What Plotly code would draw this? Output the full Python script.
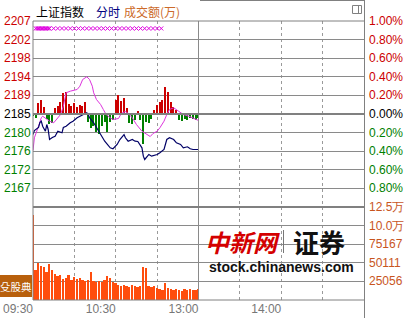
import plotly.graph_objects as go

# ---------------- data ----------------
PREV_CLOSE = 2184.8
VOL_TOP = 125280

# trading minutes since 09:30 (lunch break collapsed)
index_t = [0, 1, 4, 5, 6, 7, 9, 10, 11, 12, 14, 16, 18, 21, 22, 24, 27, 29, 32, 34, 36, 39, 40, 41,
           44, 46, 49, 52, 56, 58, 61, 63, 66, 67, 69, 72, 74, 76, 79, 80, 81, 84, 86, 90, 92, 95,
           97, 99, 102, 104, 107, 109, 112, 114, 116, 120]
index_p = [2179.98, 2180.92, 2181.63, 2182.80, 2183.11, 2181.93, 2180.76, 2182.33, 2181.16, 2178.81,
           2179.28, 2179.59, 2180.76, 2180.38, 2181.63, 2181.93, 2182.73, 2183.11, 2183.91, 2184.28,
           2184.68, 2185.08, 2184.68, 2183.91, 2182.73, 2181.56, 2179.98, 2178.41, 2176.86, 2176.63,
           2177.64, 2178.81, 2179.98, 2179.21, 2178.41, 2178.81, 2178.41, 2178.34, 2176.86, 2174.89,
           2174.11, 2175.29, 2174.89, 2175.29, 2175.69, 2176.46, 2178.81, 2179.21, 2178.81, 2178.03,
           2177.64, 2176.86, 2177.10, 2176.63, 2176.46, 2176.46]

lead_t = [0, 1, 4, 6, 7, 10, 12, 15, 17, 20, 22, 23, 24, 27, 29, 32, 34, 36, 39, 41, 43, 44, 46, 49,
          51, 53, 56, 58, 62, 64, 67, 69, 72, 75, 79, 83, 85, 87, 90, 92, 95, 97, 99, 102, 104, 107,
          109, 113, 116, 120]
lead_p = [2176.23, 2179.21, 2181.93, 2183.91, 2184.28, 2183.51, 2183.11, 2182.73, 2183.51, 2184.68,
          2186.63, 2188.61, 2189.78, 2190.16, 2190.39, 2190.56, 2191.33, 2192.90, 2193.54, 2192.90,
          2191.33, 2189.78, 2188.21, 2187.03, 2185.86, 2184.68, 2183.91, 2183.51, 2183.74, 2184.92,
          2185.39, 2184.92, 2183.91, 2182.33, 2180.76, 2179.98, 2179.51, 2180.22, 2180.76, 2181.56,
          2183.11, 2184.68, 2185.86, 2186.26, 2185.86, 2185.08, 2184.68, 2184.28, 2183.91, 2183.27]

bar_t = list(range(0, 121, 2))
strength = [-0.5, -0.9, 2.6, 3.3, 1.6, -1.2, -2.3, -2.1, 1.4, 1.9, 2.8, 4.9, 5.2, 2.3, 1.9, 2.6,
            1.6, 2.1, 1.9, 2.8, -1.9, -3.3, -2.8, -4.2, -4.7, -2.8, -1.9, -4.2, -1.9, -1.4, 3.3,
            4.5, 3.1, 3.8, 1.4, -2.1, -2.3, -1.4, 0.7, -1.4, -7.0, -1.9, -2.1, -1.2, 0.9, 2.1, 2.8,
            3.3, 6.3, 5.2, 2.8, 1.6, 0.9, -1.4, -1.6, -1.2, -1.4, -0.9, -1.2, -1.4, -0.9]
volume = [114500, 40400, 49800, 45800, 44500, 37700, 48500, 40400, 35000, 32300, 33700, 28300,
          29600, 33700, 26900, 31000, 28300, 29600, 26900, 25600, 26900, 37700, 25600, 24200,
          25600, 24200, 26900, 32300, 29600, 24200, 22900, 20200, 18900, 20200, 18900, 17500,
          20200, 18900, 17500, 18900, 44500, 43100, 18900, 17500, 18900, 16200, 14800, 13500,
          22900, 16200, 14800, 13500, 14800, 13500, 12100, 14800, 13500, 14800, 13500, 13500, 14800]

mark_t = [2, 3, 4, 5, 6, 7, 8, 9, 10, 11, 12, 15, 18, 21, 24, 27, 30, 33, 36, 39, 42, 45, 48, 51,
          54, 57, 60, 63, 66, 69, 72, 75, 78, 81, 84, 87, 90, 93]
mark_level = 2204.9

price_steps = [5, 4, 3, 2, 1, 0, -1, -2, -3, -4]
price_labels = ['2207', '2202', '2198', '2194', '2189', '2185', '2180', '2176', '2172', '2167']
pct_labels = ['1.00%', '0.80%', '0.60%', '0.40%', '0.20%', '0.00%', '0.20%', '0.40%', '0.60%', '0.80%']
vol_steps = [5, 4, 3, 2, 1]
vol_labels = ['12.5万', '10.0万', '75167', '50111', '25056']
time_ticks = [0, 30, 60, 90, 120, 150, 180, 210, 240]
time_labels = ['09:30', '', '10:30', '', '13:00', '', '14:00', '', '']

# ---------------- styling helpers ----------------
L, R, T, B = 33, 364, 21, 300
W, H = R - L, B - T


def px(x):
    return (x - L) / W


def py(y):
    return (B - y) / H


RED, GREEN, BLACK = '#cc0000', '#008000', '#000000'
ORANGE = '#c8551e'
GRID = '#8a8a8a'
NUMFONT = 'Liberation Sans, Arial, sans-serif'
CJK = 'Noto Sans CJK SC, sans-serif'

fig = go.Figure()

fig.add_trace(go.Bar(
    x=bar_t, y=strength, base=PREV_CLOSE, width=1.0,
    marker=dict(color=[RED if v > 0 else GREEN for v in strength], line=dict(width=0)),
    xaxis='x', yaxis='y', hoverinfo='skip'))
fig.add_trace(go.Scatter(x=lead_t, y=lead_p, mode='lines',
                         line=dict(color='#dd33dd', width=1), xaxis='x', yaxis='y'))
fig.add_trace(go.Scatter(x=index_t, y=index_p, mode='lines',
                         line=dict(color='#000066', width=1.2), xaxis='x', yaxis='y'))
fig.add_trace(go.Scatter(x=mark_t, y=[mark_level] * len(mark_t), mode='markers',
                         marker=dict(symbol='x-thin', size=4, line=dict(color='#e000e0', width=1)),
                         xaxis='x', yaxis='y'))
fig.add_trace(go.Bar(
    x=bar_t, y=volume, width=1.3,
    marker=dict(color='#ff4d0d', line=dict(width=0)),
    xaxis='x', yaxis='y2', hoverinfo='skip'))

ann = []
price_tickvals = [PREV_CLOSE * (1 + 0.002 * k) for k in range(-5, 6)]
for k, lab, pl in zip(price_steps, price_labels, pct_labels):
    col = RED if k > 0 else (BLACK if k == 0 else GREEN)
    yv = PREV_CLOSE * (1 + 0.002 * k)
    ann.append(dict(xref='paper', yref='y', x=px(2), y=yv, text=lab, xanchor='left',
                    yanchor='middle', showarrow=False, font=dict(family=NUMFONT, size=12, color=col)))
    ann.append(dict(xref='paper', yref='y', x=px(367), y=yv, text=pl, xanchor='left',
                    yanchor='middle', showarrow=False, font=dict(family=NUMFONT, size=12, color=col)))
for k, lab in zip(vol_steps, vol_labels):
    ann.append(dict(xref='paper', yref='y2', x=px(367), y=VOL_TOP * k / 5, text=lab, xanchor='left',
                    yanchor='middle', showarrow=False, font=dict(family=NUMFONT, size=12, color=ORANGE)))

# title
ann += [
    dict(xref='paper', yref='paper', x=px(34), y=py(11), text='上证指数', xanchor='left',
         yanchor='middle', showarrow=False, font=dict(family=CJK, size=12, color='#000000')),
    dict(xref='paper', yref='paper', x=px(94), y=py(11), text='分时', xanchor='left',
         yanchor='middle', showarrow=False, font=dict(family=CJK, size=12, color='#000080')),
    dict(xref='paper', yref='paper', x=px(122), y=py(11), text='成交额(万)', xanchor='left',
         yanchor='middle', showarrow=False, font=dict(family=CJK, size=12, color='#cc6a2a')),
]
# watermark
ann += [
    dict(xref='paper', yref='paper', x=px(203), y=py(241), text='<i><b>中新网</b></i>', xanchor='left',
         yanchor='middle', showarrow=False, font=dict(family=CJK, size=24, color='#d40000')),
    dict(xref='paper', yref='paper', x=px(291), y=py(241), text='<b>证券</b>', xanchor='left',
         yanchor='middle', showarrow=False, font=dict(family=CJK, size=26, color='#111111')),
    dict(xref='paper', yref='paper', x=px(207), y=py(267), text='<b>stock.chinanews.com</b>',
         xanchor='left', yanchor='middle', showarrow=False,
         font=dict(family=NUMFONT, size=14, color='#111111')),
    dict(xref='paper', yref='paper', x=px(32.5), y=py(286), text='殳股典', xanchor='right',
         yanchor='middle', showarrow=False, borderpad=0,
         font=dict(family=CJK, size=10.5, color='#ffffff')),
]

shapes = [
    # brown badge
    dict(type='rect', xref='paper', yref='paper', x0=px(-5), x1=px(32), y0=py(297), y1=py(275),
         fillcolor='#b8600c', line=dict(width=0), layer='below'),
    # watermark separator
    dict(type='line', xref='paper', yref='paper', x0=px(283.5), x1=px(283.5), y0=py(253), y1=py(230),
         line=dict(color='#777777', width=1)),
    # lunch divider
    dict(type='line', xref='x', yref='paper', x0=120, x1=120, y0=0, y1=1,
         line=dict(color=GRID, width=1)),
    # zero line and panel divider
    dict(type='line', xref='paper', yref='y', x0=0, x1=1, y0=PREV_CLOSE, y1=PREV_CLOSE,
         line=dict(color='#808080', width=2)),
    dict(type='line', xref='paper', yref='paper', x0=0, x1=1, y0=py(207), y1=py(207),
         line=dict(color='#808080', width=2)),
    # borders
    dict(type='line', xref='paper', yref='paper', x0=0, x1=0, y0=0, y1=1,
         line=dict(color='#808080', width=1)),
    dict(type='line', xref='paper', yref='paper', x0=px(364.5), x1=px(364.5), y0=py(318), y1=py(0),
         line=dict(color='#808080', width=1)),
    dict(type='line', xref='paper', yref='paper', x0=0, x1=1, y0=0, y1=0,
         line=dict(color='#808080', width=1)),
    dict(type='line', xref='paper', yref='paper', x0=0, x1=1, y0=1, y1=1,
         line=dict(color='#808080', width=1)),
    dict(type='line', xref='paper', yref='paper', x0=px(200), x1=px(364.5), y0=py(0.5), y1=py(0.5),
         line=dict(color='#808080', width=1)),
    # small icon
    dict(type='rect', xref='paper', yref='paper', x0=px(352.5), x1=px(361.5), y0=py(13.5), y1=py(5.5),
         line=dict(color='#808080', width=1), fillcolor='rgba(0,0,0,0)'),
    dict(type='line', xref='paper', yref='paper', x0=px(358.5), x1=px(358.5), y0=py(13.5), y1=py(5.5),
         line=dict(color='#808080', width=1)),
]

fig.update_layout(
    width=410, height=318,
    margin=dict(l=L, r=410 - R, t=T, b=318 - B, pad=0, autoexpand=False),
    paper_bgcolor='white', plot_bgcolor='white',
    showlegend=False, barmode='overlay', bargap=0,
    xaxis=dict(range=[0, 240], tickvals=time_ticks, ticktext=time_labels, showgrid=True,
               gridcolor='#9a9a9a', griddash='dot', gridwidth=1, zeroline=False, showline=False,
               ticks='', ticklabelposition='outside left', anchor='y2', automargin=False,
               tickfont=dict(family=NUMFONT, size=12, color='#777777')),
    yaxis=dict(domain=[1 / 3, 1], range=[PREV_CLOSE * 0.99, PREV_CLOSE * 1.01], tickvals=price_tickvals,
               showticklabels=False, showgrid=True, gridcolor=GRID, gridwidth=1, zeroline=False,
               ticks='', anchor='x', automargin=False),
    yaxis2=dict(domain=[0, 1 / 3], range=[0, VOL_TOP], tickvals=[VOL_TOP * k / 5 for k in range(6)],
                showticklabels=False, showgrid=True, gridcolor=GRID, gridwidth=1, zeroline=False,
                ticks='', anchor='x', automargin=False),
    annotations=ann, shapes=shapes,
)

fig.write_html('out.html')
